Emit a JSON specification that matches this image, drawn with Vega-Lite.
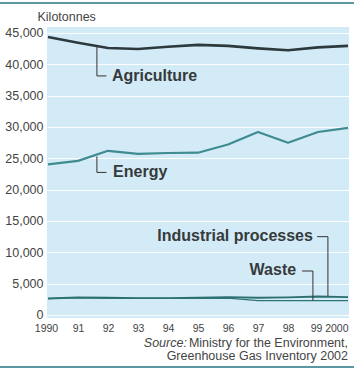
{
  "$schema": "https://vega.github.io/schema/vega-lite/v6.json",
  "width": 302,
  "height": 291,
  "autosize": {"type": "none"},
  "padding": {"left": 47, "top": 27, "right": 5, "bottom": 52},
  "background": "white",
  "config": {"view": {"fill": "#d3ebf6", "stroke": null}, "font": "Liberation Sans"},
  "datasets": {
    "emissions": [
      {"year": 1990, "series": "Agriculture", "value": 44350},
      {"year": 1991, "series": "Agriculture", "value": 43450},
      {"year": 1992, "series": "Agriculture", "value": 42600},
      {"year": 1993, "series": "Agriculture", "value": 42450},
      {"year": 1994, "series": "Agriculture", "value": 42800},
      {"year": 1995, "series": "Agriculture", "value": 43100},
      {"year": 1996, "series": "Agriculture", "value": 42950},
      {"year": 1997, "series": "Agriculture", "value": 42550},
      {"year": 1998, "series": "Agriculture", "value": 42250},
      {"year": 1999, "series": "Agriculture", "value": 42700},
      {"year": 2000, "series": "Agriculture", "value": 42950},
      {"year": 1990, "series": "Energy", "value": 24050},
      {"year": 1991, "series": "Energy", "value": 24600},
      {"year": 1992, "series": "Energy", "value": 26200},
      {"year": 1993, "series": "Energy", "value": 25700},
      {"year": 1994, "series": "Energy", "value": 25850},
      {"year": 1995, "series": "Energy", "value": 25900},
      {"year": 1996, "series": "Energy", "value": 27200},
      {"year": 1997, "series": "Energy", "value": 29200},
      {"year": 1998, "series": "Energy", "value": 27500},
      {"year": 1999, "series": "Energy", "value": 29200},
      {"year": 2000, "series": "Energy", "value": 29850},
      {"year": 1990, "series": "Industrial processes", "value": 2650},
      {"year": 1991, "series": "Industrial processes", "value": 2800},
      {"year": 1992, "series": "Industrial processes", "value": 2750},
      {"year": 1993, "series": "Industrial processes", "value": 2700},
      {"year": 1994, "series": "Industrial processes", "value": 2700},
      {"year": 1995, "series": "Industrial processes", "value": 2750},
      {"year": 1996, "series": "Industrial processes", "value": 2850},
      {"year": 1997, "series": "Industrial processes", "value": 2750},
      {"year": 1998, "series": "Industrial processes", "value": 2800},
      {"year": 1999, "series": "Industrial processes", "value": 2950},
      {"year": 2000, "series": "Industrial processes", "value": 2850},
      {"year": 1990, "series": "Waste", "value": 2600},
      {"year": 1991, "series": "Waste", "value": 2750},
      {"year": 1992, "series": "Waste", "value": 2650},
      {"year": 1993, "series": "Waste", "value": 2650},
      {"year": 1994, "series": "Waste", "value": 2650},
      {"year": 1995, "series": "Waste", "value": 2650},
      {"year": 1996, "series": "Waste", "value": 2700},
      {"year": 1997, "series": "Waste", "value": 2300},
      {"year": 1998, "series": "Waste", "value": 2300},
      {"year": 1999, "series": "Waste", "value": 2300},
      {"year": 2000, "series": "Waste", "value": 2300}
    ],
    "leaders": [
      {"series": "Agriculture", "year": 1991.63, "year2": 1991.63, "value": 43050, "value2": 38150},
      {"series": "Agriculture", "year": 1991.63, "year2": 1991.95, "value": 38150, "value2": 38150},
      {"series": "Energy", "year": 1991.63, "year2": 1991.63, "value": 25300, "value2": 22750},
      {"series": "Energy", "year": 1991.63, "year2": 1991.95, "value": 22750, "value2": 22750},
      {"series": "Industrial processes", "year": 1998.97, "year2": 1999.33, "value": 12500, "value2": 12500},
      {"series": "Industrial processes", "year": 1999.33, "year2": 1999.33, "value": 12500, "value2": 2950},
      {"series": "Waste", "year": 1998.47, "year2": 1998.83, "value": 7020, "value2": 7020},
      {"series": "Waste", "year": 1998.83, "year2": 1998.83, "value": 7020, "value2": 2300}
    ],
    "leftLabels": [
      {"label": "Agriculture", "year": 1992.13, "value": 38200},
      {"label": "Energy", "year": 1992.17, "value": 22850}
    ],
    "rightLabels": [
      {"label": "Industrial processes", "year": 1998.83, "value": 12650},
      {"label": "Waste", "year": 1998.27, "value": 7250}
    ],
    "frame": [
      {"edge": "top", "year": 1988.4, "year2": 2000.2, "value": 49800},
      {"edge": "bottom", "year": 1988.4, "year2": 2000.2, "value": -8300}
    ],
    "sourceItalic": [
      {"text": "Source:", "year": 1994.63, "value": -4470}
    ],
    "sourceText": [
      {"text": "Ministry for the Environment,", "year": 2000, "value": -4470},
      {"text": "Greenhouse Gas Inventory 2002", "year": 2000, "value": -6540}
    ]
  },
  "encoding": {
    "x": {
      "field": "year", "type": "quantitative",
      "scale": {"domain": [1989.967, 2000.033], "nice": false, "zero": false},
      "axis": {
        "values": [1990, 1991, 1992, 1993, 1994, 1995, 1996, 1997, 1998, 1999, 2000],
        "format": "d",
        "labelExpr": "datum.value == 1990 || datum.value == 2000 ? datum.label : substring(datum.label, 2)",
        "labelAlign": {"condition": {"test": "datum.value == 2000", "value": "right"}, "value": "center"},
        "labelOffset": {"condition": {"test": "datum.value == 1990 || datum.value == 1999", "value": -2}, "value": 0},
        "grid": false, "domain": false, "ticks": false,
        "labelPadding": 5, "labelFontSize": 10.5, "labelColor": "#444",
        "labelOverlap": false, "labelFlush": false,
        "title": null
      }
    },
    "y": {
      "field": "value", "type": "quantitative",
      "scale": {"domain": [-479, 45957], "nice": false, "zero": false},
      "axis": {
        "values": [0, 5000, 10000, 15000, 20000, 25000, 30000, 35000, 40000, 45000],
        "format": ",d",
        "grid": true, "gridColor": "#ffffff", "gridWidth": 1, "gridOpacity": 0.9,
        "domain": false, "ticks": false,
        "labelPadding": 4, "labelFontSize": 12.5, "labelColor": "#444",
        "title": "Kilotonnes", "titleAngle": 0, "titleAlign": "left", "titleBaseline": "middle",
        "titleX": -10, "titleY": -11, "titleFontWeight": "normal", "titleFontSize": 12.5, "titleColor": "#444"
      }
    }
  },
  "layer": [
    {
      "data": {"name": "emissions"},
      "mark": {"type": "line", "strokeJoin": "round", "strokeCap": "butt"},
      "encoding": {
        "detail": {"field": "series"},
        "color": {
          "field": "series", "type": "nominal",
          "scale": {"domain": ["Agriculture", "Energy", "Industrial processes", "Waste"], "range": ["#2c3a3e", "#3e8b91", "#2d6e70", "#2f7475"]},
          "legend": null
        },
        "strokeWidth": {
          "field": "series", "type": "nominal",
          "scale": {"domain": ["Agriculture", "Energy", "Industrial processes", "Waste"], "range": [2.6, 1.4, 2, 1.5]},
          "legend": null
        }
      }
    },
    {
      "data": {"name": "leaders"},
      "mark": {"type": "rule", "color": "#333333", "strokeWidth": 1},
      "encoding": {
        "x2": {"field": "year2"},
        "y2": {"field": "value2"}
      }
    },
    {
      "data": {"name": "leftLabels"},
      "mark": {"type": "text", "align": "left", "baseline": "middle", "fontSize": 16, "fontWeight": "bold", "color": "#363a3c"},
      "encoding": {
        "text": {"field": "label"}
      }
    },
    {
      "data": {"name": "rightLabels"},
      "mark": {"type": "text", "align": "right", "baseline": "middle", "fontSize": 16, "fontWeight": "bold", "color": "#363a3c"},
      "encoding": {
        "text": {"field": "label"}
      }
    },
    {
      "data": {"name": "frame"},
      "mark": {"type": "rule", "color": "#5b98a3", "strokeWidth": 2},
      "encoding": {
        "x2": {"field": "year2"}
      }
    },
    {
      "data": {"name": "sourceItalic"},
      "mark": {"type": "text", "align": "right", "baseline": "middle", "fontSize": 12.5, "fontStyle": "italic", "color": "#444"},
      "encoding": {
        "text": {"field": "text"}
      }
    },
    {
      "data": {"name": "sourceText"},
      "mark": {"type": "text", "align": "right", "baseline": "middle", "fontSize": 12.5, "color": "#444"},
      "encoding": {
        "text": {"field": "text"}
      }
    }
  ]
}
